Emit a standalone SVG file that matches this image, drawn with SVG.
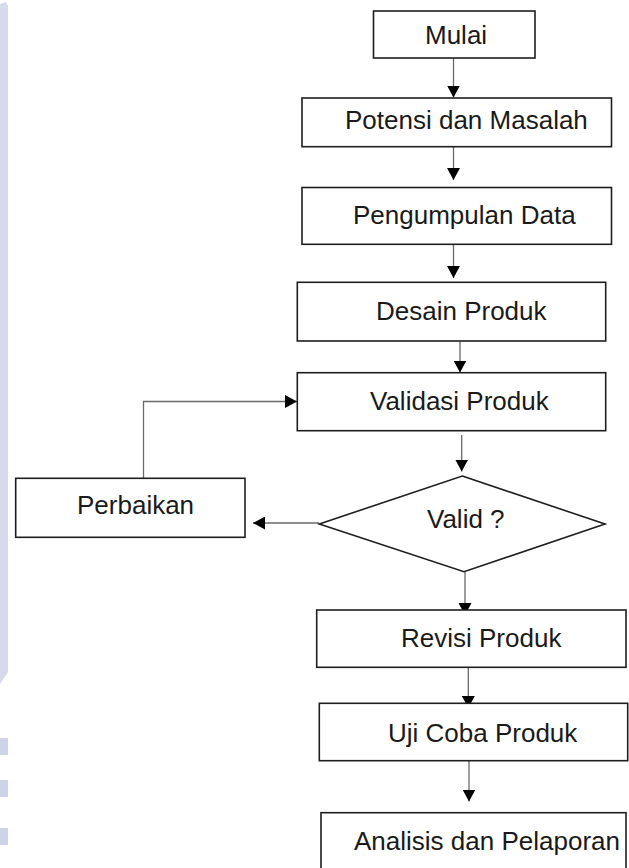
<svg xmlns="http://www.w3.org/2000/svg" width="629" height="868" viewBox="0 0 629 868">
<style>
.box{fill:#fff;stroke:#1e1e1e;stroke-width:1.6}
.lbl{font-family:"Liberation Sans",Arial,sans-serif;font-size:26px;fill:#1a1a1a}
.con{fill:none;stroke:#6a6a6a;stroke-width:1.3}
.wm{fill:#cfd3e9}
</style>
<defs>
<marker id="ah" markerUnits="userSpaceOnUse" markerWidth="12" markerHeight="13" refX="12" refY="6.5" orient="auto">
<path d="M0,0 L12,6.5 L0,13 z" fill="#000"/>
</marker>
</defs>
<rect width="629" height="868" fill="#fff"/>
<g id="watermark">
<path class="wm" d="M0,4 L6,2 L8,6 L8,672 L0,684 z" opacity="0.85"/>
<rect class="wm" x="0" y="738" width="8" height="17"/>
<rect class="wm" x="0" y="780" width="8" height="17"/>
<rect class="wm" x="0" y="828" width="8" height="17"/>
</g>
<g id="connectors">
<line class="con" x1="453.5" y1="58" x2="453.5" y2="97.5" marker-end="url(#ah)"/>
<line class="con" x1="453.5" y1="147" x2="453.5" y2="180" marker-end="url(#ah)"/>
<line class="con" x1="453.5" y1="244" x2="453.5" y2="278" marker-end="url(#ah)"/>
<line class="con" x1="460" y1="337" x2="460" y2="372.5" marker-end="url(#ah)"/>
<line class="con" x1="461.7" y1="435" x2="461.7" y2="471.5" marker-end="url(#ah)"/>
<line class="con" x1="465" y1="572" x2="465" y2="615" marker-end="url(#ah)"/>
<line class="con" x1="468.3" y1="667" x2="468.3" y2="708" marker-end="url(#ah)"/>
<line class="con" x1="469" y1="755" x2="469" y2="801.5" marker-end="url(#ah)"/>
<line class="con" x1="319" y1="523" x2="253" y2="523" marker-end="url(#ah)"/>
<path class="con" d="M143.5,485 V401.5 H297" marker-end="url(#ah)"/>
</g>
<g id="mulai">
<rect class="box" x="373.5" y="11" width="161.5" height="47"/>
<text class="lbl" x="425" y="43.5">Mulai</text>
</g>
<g id="potensi">
<rect class="box" x="302" y="98" width="309.5" height="48.7"/>
<text class="lbl" x="345" y="128.5">Potensi dan Masalah</text>
</g>
<g id="pengumpulan">
<rect class="box" x="302" y="187.5" width="309.5" height="56.8"/>
<text class="lbl" x="353" y="224">Pengumpulan Data</text>
</g>
<g id="desain">
<rect class="box" x="297.3" y="282.3" width="308.4" height="58.7"/>
<text class="lbl" x="376" y="320">Desain Produk</text>
</g>
<g id="validasi">
<rect class="box" x="297.3" y="372.7" width="308.4" height="58"/>
<text class="lbl" x="370" y="410">Validasi Produk</text>
</g>
<g id="valid">
<polygon class="box" points="462.3,476 605,524 464,571.7 319.3,524"/>
<text class="lbl" x="427" y="528">Valid ?</text>
</g>
<g id="perbaikan">
<rect class="box" x="15.7" y="478.3" width="229.3" height="59"/>
<text class="lbl" x="77" y="514">Perbaikan</text>
</g>
<g id="revisi">
<rect class="box" x="316.7" y="610" width="309.3" height="57.3"/>
<text class="lbl" x="401" y="647">Revisi Produk</text>
</g>
<g id="uji">
<rect class="box" x="319.3" y="703.3" width="308.4" height="57.4"/>
<text class="lbl" x="388" y="741.5">Uji Coba Produk</text>
</g>
<g id="analisis">
<rect class="box" x="321" y="812.7" width="305" height="70"/>
<text class="lbl" x="354" y="850">Analisis dan Pelaporan</text>
</g>
</svg>
